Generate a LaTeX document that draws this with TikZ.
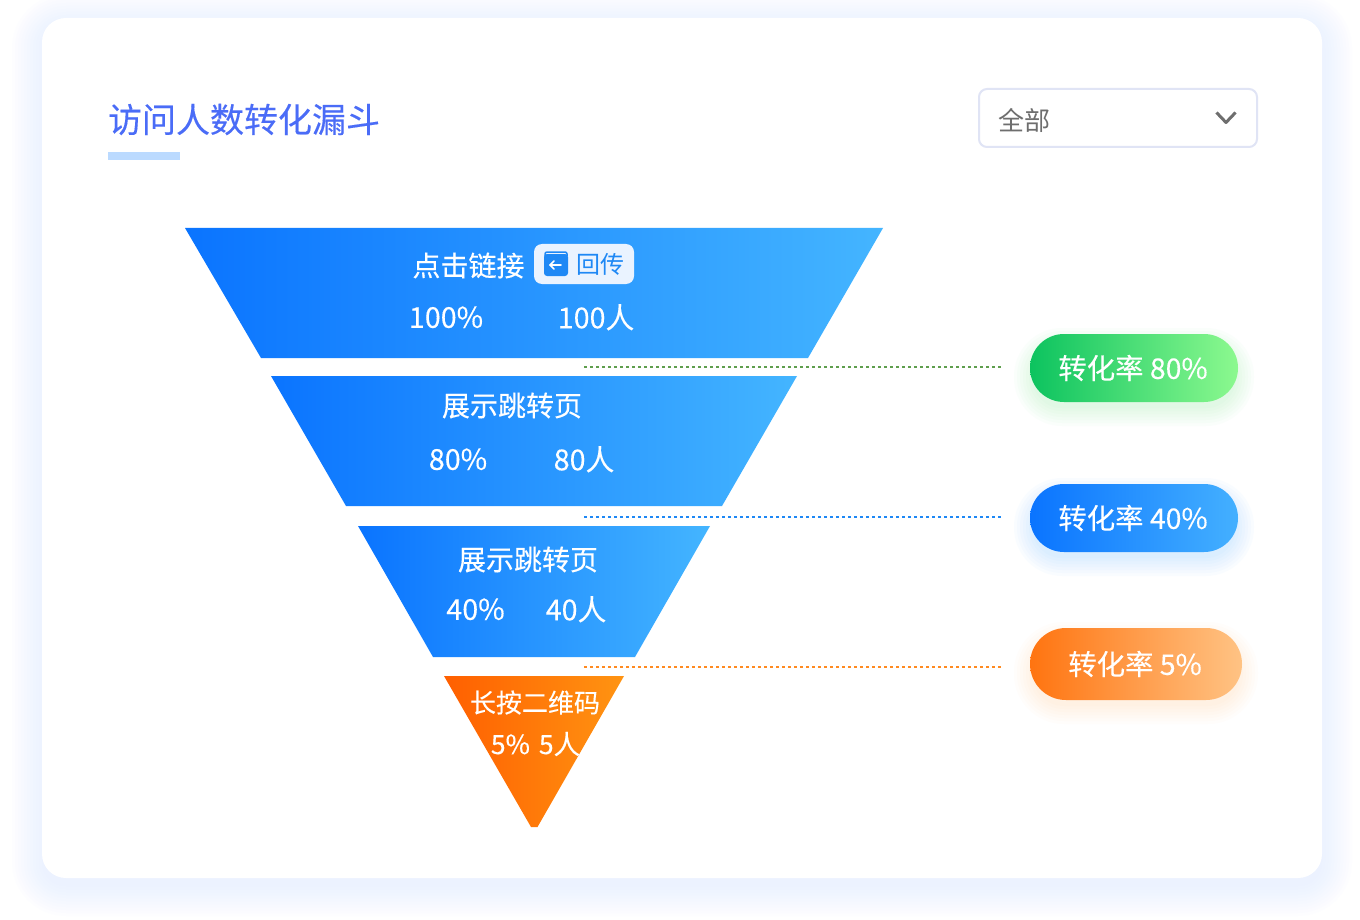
\documentclass[tikz,border=0pt]{standalone}
\usepackage{fontspec}
\setmainfont{Noto Sans CJK SC}
\newfontfamily\medfont[FakeBold=0.25]{Noto Sans CJK SC}
\usetikzlibrary{calc}
\definecolor{fblueA}{HTML}{0A74FF}
\definecolor{fblueB}{HTML}{44B5FF}
\definecolor{forA}{HTML}{FF5F00}
\definecolor{forB}{HTML}{FF9412}
\definecolor{titlec}{HTML}{4A6CF7}
\definecolor{underc}{HTML}{BBDAFF}
\definecolor{ddborder}{HTML}{E0E4F5}
\definecolor{ddtext}{HTML}{6E6E6E}
\definecolor{cardsh}{HTML}{DCE9FF}
\definecolor{greenA}{HTML}{0CC35F}
\definecolor{greenB}{HTML}{8CF98F}
\definecolor{pillBlueA}{HTML}{0A74FF}
\definecolor{pillBlueB}{HTML}{44B0FF}
\definecolor{pillOrA}{HTML}{FF7410}
\definecolor{pillOrB}{HTML}{FFC384}
\definecolor{dashG}{HTML}{5E9E4D}
\definecolor{dashB}{HTML}{1E88F5}
\definecolor{dashO}{HTML}{FF8A20}
\definecolor{backBtn}{HTML}{EAF3FF}
\tikzset{
  x=1pt,y=-1pt,
  ftext/.style={text=white,font=\medfont\fontsize{28}{30}\selectfont,inner sep=0pt,anchor=center},
  fnum/.style={text=white,font=\medfont\fontsize{28.7}{30}\selectfont,inner sep=0pt,anchor=center},
  fblue/.style={left color=fblueA,right color=fblueB,draw=none},
  pill/.style={text=white,font=\medfont\fontsize{28.4}{30}\selectfont,inner sep=0pt,rounded corners=#1,anchor=center},
  guide/.style={line width=1.5pt,dash pattern=on 3pt off 3pt},
}
\begin{document}
\begin{tikzpicture}
\useasboundingbox (0,0) rectangle (1360,920);
\fill[white] (0,0) rectangle (1360,920);
% card shadow
\foreach \i in {30,27,...,0}{
  \fill[cardsh,fill opacity=.05,rounded corners=24+\i] (42-\i,18+6-\i) rectangle (1322+\i,878+8+\i);
}
\fill[white,rounded corners=24] (42,18) rectangle (1322,878);
% title
\node[text=titlec,font=\medfont\fontsize{34}{36}\selectfont,inner sep=0pt,anchor=center] (title) at (244,119.5) {访问人数转化漏斗};
\fill[underc] (108,152) rectangle (180,160);
% dropdown
\node[draw=ddborder,line width=2pt,fill=white,rounded corners=8,minimum width=278,minimum height=58,inner sep=0pt,anchor=center] (dd) at (1118,118) {};
\node[text=ddtext,font=\fontsize{26}{28}\selectfont,inner sep=0pt,anchor=center] (ddlabel) at (1024,120) {全部};
\draw[ddtext,line width=3pt,line join=round] (1216.5,112.5) -- (1226,122.5) -- (1235.5,112.5);
% funnels
\shade[fblue] (185,228) -- (883,228) -- (808,358) -- (261,358) -- cycle;
\shade[fblue] (271,376) -- (797,376) -- (722,506) -- (346,506) -- cycle;
\shade[fblue] (358,526) -- (710,526) -- (635,657) -- (433,657) -- cycle;
\shade[left color=forA,right color=forB,draw=none] (444,676) -- (624,676) -- (537.5,827) -- (531,827) -- cycle;
% funnel texts
\node[ftext] (t1) at (468.5,265.5) {点击链接};
\node[fill=backBtn,rounded corners=8,minimum width=100,minimum height=40,inner sep=0pt,anchor=center] (btn) at (584,264) {};
\fill[dashB,rounded corners=3] (544,254) rectangle (568,276);
\draw[dashB,line width=1.5pt,rounded corners=2] (545,256) -- (545,252) -- (567,252) -- (567,256);
\draw[white,line width=1.5pt,line cap=round] (561,265) -- (550,265);
\draw[white,line width=1.5pt,line cap=round,line join=round] (554,261) -- (550,265) -- (554,269);
\node[text=dashB,font=\fontsize{24}{26}\selectfont,inner sep=0pt,anchor=center] (btnlabel) at (600,264.5) {回传};
\node[fnum] (p1) at (446,317.3) {100\%};
\node[fnum] (n1) at (596,317.3) {100人};
\node[ftext] (t2) at (512,405.5) {展示跳转页};
\node[fnum] (p2) at (458,459.3) {80\%};
\node[fnum] (n2) at (584,459.3) {80人};
\node[ftext] (t3) at (528,559.5) {展示跳转页};
\node[fnum] (p3) at (475.5,609.3) {40\%};
\node[fnum] (n3) at (576,609.3) {40人};
\node[ftext,font=\medfont\fontsize{26}{28}\selectfont] (t4) at (535,702.5) {长按二维码};
\node[ftext,font=\medfont\fontsize{26.5}{28}\selectfont] (p4) at (535.5,744) {5\%\hspace{3pt} 5人};
% pill shadows
\foreach \i in {16,13,...,-2}{
  \fill[greenB!70!greenA,fill opacity=.028,rounded corners=32+\i] (1030-\i,334+10-\i) rectangle (1238+\i,402+8+\i);
  \fill[pillBlueB,fill opacity=.028,rounded corners=32+\i] (1030-\i,484+10-\i) rectangle (1238+\i,552+8+\i);
  \fill[pillOrB,fill opacity=.032,rounded corners=34+\i] (1030-\i,628+10-\i) rectangle (1242+\i,700+8+\i);
}
% pills
\node[pill=34,left color=greenA,right color=greenB,minimum width=208,minimum height=68] (r1) at (1134,368) {\hspace{-2pt}\raisebox{-2pt}{转化率 80\%}};
\node[pill=34,left color=pillBlueA,right color=pillBlueB,minimum width=208,minimum height=68] (r2) at (1134,518) {\hspace{-2pt}\raisebox{-2pt}{转化率 40\%}};
\node[pill=36,left color=pillOrA,right color=pillOrB,minimum width=212,minimum height=72] (r3) at (1136,664) {\hspace{-2pt}\raisebox{-2pt}{转化率 5\%}};
% guides
\coordinate (g1a) at (584,367); \coordinate (g1b) at (1002,367);
\coordinate (g2a) at (584,517); \coordinate (g2b) at (1002,517);
\coordinate (g3a) at (584,667); \coordinate (g3b) at (1002,667);
\draw[guide,dashG] (g1a) -- (g1b);
\draw[guide,dashB] (g2a) -- (g2b);
\draw[guide,dashO] (g3a) -- (g3b);
\end{tikzpicture}
\end{document}
